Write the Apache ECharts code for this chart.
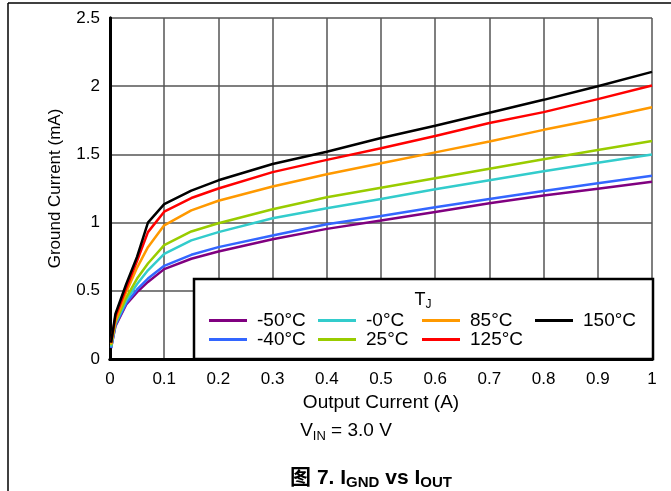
<!DOCTYPE html>
<html>
<head>
<meta charset="utf-8">
<script src="https://cdn.jsdelivr.net/npm/echarts@6/dist/echarts.min.js"></script>
<style>html,body{margin:0;padding:0;background:#fff}#c{width:671px;height:491px}</style>
</head>
<body>
<div id="c"></div>
<script>
// Output current (A)
var xValues = [0.002, 0.01, 0.03, 0.05, 0.07, 0.1, 0.15, 0.2, 0.3, 0.4, 0.5, 0.6, 0.7, 0.8, 0.9, 1.0];
// Ground current (mA) per junction temperature
var tMinus50 = [0.08, 0.24, 0.40, 0.49, 0.565, 0.659, 0.735, 0.788, 0.878, 0.954, 1.015, 1.078, 1.142, 1.198, 1.249, 1.30];
var tMinus40 = [0.08, 0.25, 0.41, 0.51, 0.59, 0.683, 0.764, 0.82, 0.905, 0.988, 1.049, 1.113, 1.173, 1.232, 1.288, 1.344];
var tZero    = [0.09, 0.26, 0.43, 0.55, 0.65, 0.77, 0.87, 0.93, 1.032, 1.105, 1.173, 1.244, 1.31, 1.376, 1.439, 1.50];
var t25      = [0.10, 0.27, 0.45, 0.59, 0.70, 0.835, 0.935, 0.995, 1.098, 1.186, 1.256, 1.325, 1.395, 1.464, 1.532, 1.598];
var t85      = [0.11, 0.28, 0.49, 0.67, 0.82, 0.98, 1.09, 1.16, 1.265, 1.355, 1.435, 1.515, 1.595, 1.68, 1.76, 1.845];
var t125     = [0.12, 0.31, 0.52, 0.72, 0.93, 1.08, 1.18, 1.25, 1.37, 1.46, 1.545, 1.635, 1.73, 1.81, 1.905, 2.005];
var t150     = [0.12, 0.33, 0.55, 0.75, 1.00, 1.135, 1.235, 1.31, 1.43, 1.52, 1.62, 1.71, 1.805, 1.90, 2.00, 2.105];
var seriesNames = ['-50°C', '-40°C', '-0°C', '25°C', '85°C', '125°C', '150°C'];
var seriesColors = ['#800080', '#3366FF', '#33CCCC', '#99CC00', '#FF9900', '#FF0000', '#000000'];
var allValues = [tMinus50, tMinus40, tZero, t25, t85, t125, t150];
var legendColumns = [['-50°C', '-40°C'], ['-0°C', '25°C'], ['85°C', '125°C'], ['150°C']];

var FONT = "'Liberation Sans', Arial, 'Noto Sans CJK SC', sans-serif";
var chart = echarts.init(document.getElementById('c'), null, {renderer: 'canvas'});

var series = allValues.map(function (vals, i) {
  return {
    name: seriesNames[i],
    type: 'line',
    data: xValues.map(function (x, j) { return [x, vals[j]]; }),
    showSymbol: false,
    symbol: 'none',
    lineStyle: {color: seriesColors[i], width: 2.5},
    itemStyle: {color: seriesColors[i]},
    z: 3
  };
});

var legendLefts = [209, 318, 422, 535];
var legends = legendColumns.map(function (col, i) {
  return {
    data: col,
    orient: 'vertical',
    left: legendLefts[i],
    top: 311,
    itemWidth: 38,
    itemHeight: 3,
    itemGap: 0,
    icon: 'rect',
    padding: 0,
    z: 20,
    selectedMode: false,
    textStyle: {fontFamily: FONT, fontSize: 19, color: '#000', lineHeight: 19, padding: [0, 0, 0, 5]}
  };
});

var axisCommon = {
  type: 'value',
  axisTick: {show: false},
  axisLine: {show: true, lineStyle: {color: '#000', width: 3}}
};

chart.setOption({
  animation: false,
  backgroundColor: '#fff',
  grid: {left: 110, right: 19, top: 18, bottom: 132, containLabel: false},
  legend: legends,
  xAxis: [
    Object.assign({}, axisCommon, {
      min: 0, max: 1, interval: 0.1,
      position: 'bottom',
      name: 'Output Current (A)',
      nameLocation: 'middle',
      nameGap: 31,
      nameTextStyle: {fontFamily: FONT, fontSize: 19, color: '#000'},
      axisLabel: {fontFamily: FONT, fontSize: 17, color: '#000', margin: 12},
      splitLine: {show: true, lineStyle: {color: '#555', width: 1.5}}
    }),
    Object.assign({}, axisCommon, {
      min: 0, max: 1, interval: 0.1, position: 'top',
      axisLabel: {show: false}, splitLine: {show: false}
    })
  ],
  yAxis: [
    Object.assign({}, axisCommon, {
      min: 0, max: 2.5, interval: 0.5,
      position: 'left',
      name: 'Ground Current (mA)',
      nameLocation: 'middle',
      nameRotate: 90,
      nameGap: 46,
      nameTextStyle: {fontFamily: FONT, fontSize: 17, color: '#000'},
      axisLabel: {fontFamily: FONT, fontSize: 17, color: '#000', margin: 10},
      splitLine: {show: true, lineStyle: {color: '#555', width: 1.5}}
    }),
    Object.assign({}, axisCommon, {
      min: 0, max: 2.5, interval: 0.5, position: 'right',
      axisLabel: {show: false}, splitLine: {show: false}
    })
  ],
  series: series,
  graphic: [
    {type: 'line', shape: {x1: 8, y1: 3, x2: 671, y2: 3}, style: {stroke: '#000', lineWidth: 1.5}, z: 1},
    {type: 'line', shape: {x1: 8, y1: 3, x2: 8, y2: 491}, style: {stroke: '#000', lineWidth: 1.5}, z: 1},
    {type: 'rect', shape: {x: 194, y: 279, width: 459, height: 80},
     style: {fill: '#fff', stroke: '#000', lineWidth: 2.5}, z: 10},
    {type: 'text', x: 423, y: 300, z: 20,
     style: {text: '{m|T}{s|J}', align: 'center', verticalAlign: 'middle',
       rich: {m: {fontFamily: FONT, fontSize: 18, lineHeight: 22, fill: '#000'},
              s: {fontFamily: FONT, fontSize: 12, lineHeight: 12, verticalAlign: 'bottom', fill: '#000'}}}},
    {type: 'text', x: 346, y: 431, z: 20,
     style: {text: '{m|V}{s|IN}{m| = 3.0 V}', align: 'center', verticalAlign: 'middle',
       rich: {m: {fontFamily: FONT, fontSize: 19, lineHeight: 24, fill: '#000'},
              s: {fontFamily: FONT, fontSize: 13, lineHeight: 13, verticalAlign: 'bottom', fill: '#000'}}}},
    {type: 'text', x: 371, y: 478, z: 20,
     style: {text: '{m|图 7. I}{s|GND}{m| vs I}{s|OUT}', align: 'center', verticalAlign: 'middle',
       rich: {m: {fontFamily: FONT, fontSize: 21, fontWeight: 'bold', lineHeight: 24, fill: '#000'},
              s: {fontFamily: FONT, fontSize: 15, fontWeight: 'bold', lineHeight: 15, verticalAlign: 'bottom', fill: '#000'}}}}
  ]
});
</script>
</body>
</html>
